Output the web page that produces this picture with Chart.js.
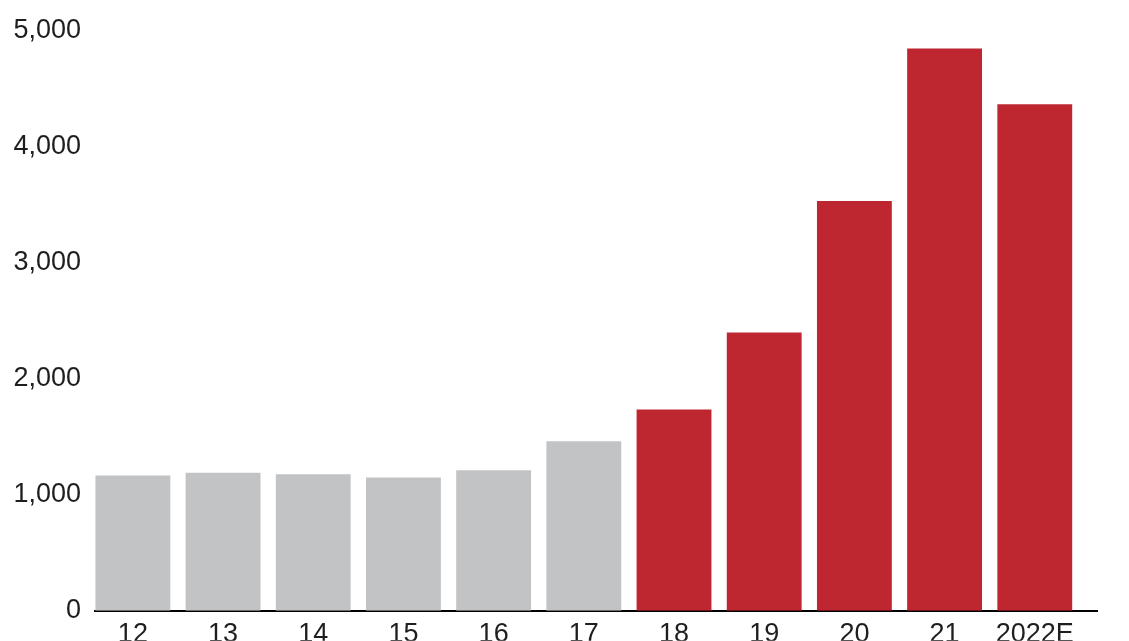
<!DOCTYPE html>
<html>
<head>
<meta charset="utf-8">
<script src="https://cdn.jsdelivr.net/npm/chart.js@4/dist/chart.umd.min.js"></script>
<style>
  html, body { margin: 0; padding: 0; background: #fff; }
  #wrap { width: 1129px; height: 641px; }
</style>
</head>
<body>
<div id="wrap"><canvas id="chart1" width="1129" height="641"></canvas></div>
<script>
// categories (years) and values
const years = ['12', '13', '14', '15', '16', '17', '18', '19', '20', '21', '2022E'];
const values = [1166, 1188, 1175, 1149, 1211, 1460, 1734, 2396, 3529, 4842, 4362];
const yTicks = [0, 1000, 2000, 3000, 4000, 5000];

const GRAY = '#c2c3c5';
const RED = '#be2630';
// first six years are grey, from 18 on they are red
const barColors = years.map((_, i) => (i < 6 ? GRAY : RED));

const ctx1 = document.getElementById('chart1').getContext('2d');

new Chart(ctx1, {
  type: 'bar',
  data: {
    datasets: [
      {
        data: values.map((v, i) => ({ x: i, y: v })),
        backgroundColor: barColors,
        borderWidth: 0,
        categoryPercentage: 1.0,
        barPercentage: 0.83,
      },
    ],
  },
  options: {
    responsive: false,
    animation: false,
    layout: { padding: { top: 25, right: 32, left: 0, bottom: 0 } },
    plugins: {
      legend: { display: false },
      tooltip: { enabled: false },
    },
    scales: {
      x: {
        type: 'linear',
        offset: false,
        min: -0.42,
        max: 10.69,
        grid: { display: false, drawTicks: false },
        border: { display: true, color: '#000', width: 2 },
        afterBuildTicks: (s) => { s.ticks = years.map((_, i) => ({ value: i })); },
        afterFit: (s) => { s.height = 30; },
        ticks: {
          autoSkip: false,
          maxRotation: 0,
          padding: 8,
          color: '#1e1e1e',
          font: { family: 'Liberation Sans, Arial, sans-serif', size: 27 },
          callback: (v) => years[v] ?? '',
        },
      },
      y: {
        min: 0,
        max: 5000,
        grid: { display: false, drawTicks: false },
        border: { display: false },
        afterBuildTicks: (s) => { s.ticks = yTicks.map((v) => ({ value: v })); },
        afterFit: (s) => { s.width = 95; },
        ticks: {
          padding: 14,
          color: '#1e1e1e',
          font: { family: 'Liberation Sans, Arial, sans-serif', size: 27 },
          callback: (v) => v.toLocaleString('en-US'),
        },
      },
    },
  },
});
</script>
</body>
</html>
